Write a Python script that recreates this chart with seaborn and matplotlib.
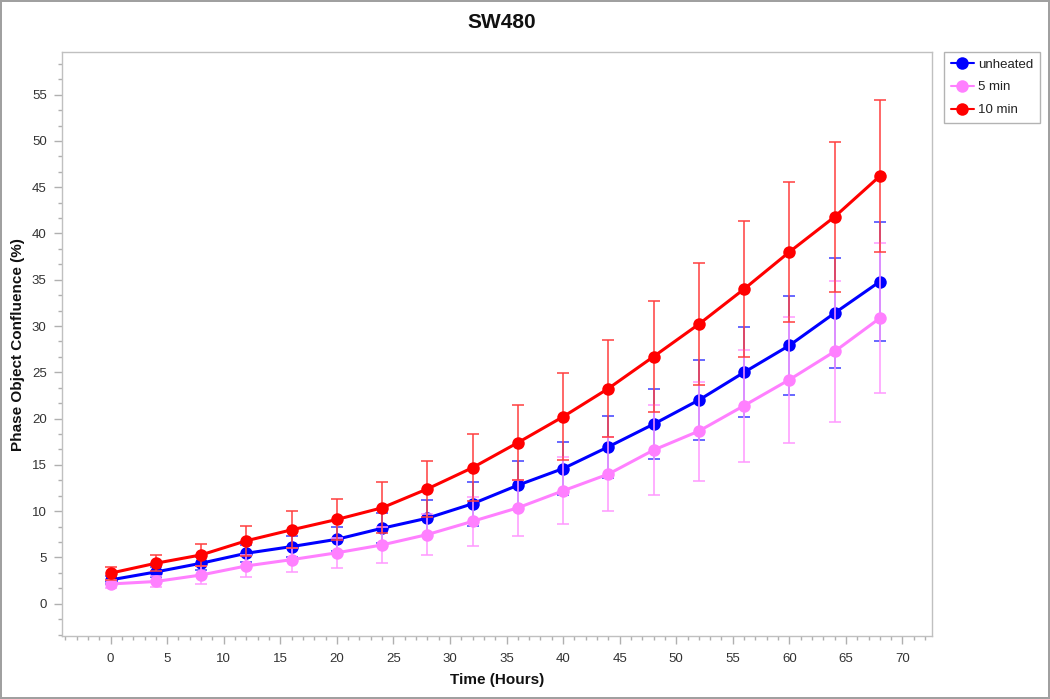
import numpy as np
import pandas as pd
import matplotlib
matplotlib.use("Agg")
import matplotlib.pyplot as plt
from matplotlib.ticker import MultipleLocator, AutoMinorLocator
from matplotlib.lines import Line2D
import seaborn as sns

hours = [0, 4, 8, 12, 16, 20, 24, 28, 32, 36, 40, 44, 48, 52, 56, 60, 64, 68]

unheated = [2.57, 3.43, 4.37, 5.45, 6.17, 6.96, 8.15, 9.24, 10.8, 12.8, 14.6, 16.95,
            19.4, 22.0, 25.0, 27.9, 31.4, 34.8]
unheated_err = [0.4, 0.5, 0.7, 0.9, 1.1, 1.3, 1.6, 1.95, 2.4, 2.65, 2.9, 3.35,
                3.8, 4.3, 4.85, 5.3, 5.9, 6.4]

min5 = [2.13, 2.4, 3.1, 4.08, 4.76, 5.5, 6.35, 7.47, 8.9, 10.36, 12.2, 14.0,
        16.6, 18.65, 21.4, 24.2, 27.25, 30.85]
min5_err = [0.4, 0.6, 1.0, 1.2, 1.3, 1.65, 1.9, 2.2, 2.65, 3.05, 3.6, 4.0,
            4.9, 5.35, 6.05, 6.8, 7.6, 8.1]

min10 = [3.3, 4.37, 5.27, 6.8, 7.98, 9.1, 10.36, 12.4, 14.7, 17.4, 20.2, 23.25,
         26.7, 30.2, 34.0, 38.0, 41.8, 46.2]
min10_err = [0.7, 0.85, 1.2, 1.6, 2.0, 2.2, 2.75, 3.05, 3.6, 4.05, 4.7, 5.25,
             6.0, 6.6, 7.35, 7.6, 8.1, 8.2]

series_names = ["unheated", "5 min", "10 min"]
series_colors = ["#0000FF", "#FF80FF", "#FF0000"]
err_colors = ["#4040FF", "#FF99FF", "#FF4040"]

sns.set_theme(style="white")
plt.rcParams["font.family"] = ["Liberation Sans", "DejaVu Sans"]

fig = plt.figure(figsize=(10.5, 6.99), dpi=100)
ax = fig.add_axes([0.059, 0.090, 0.8285, 0.8355])

vals = [unheated, min5, min10]
errs = [unheated_err, min5_err, min10_err]

for i, (name, v, e) in enumerate(zip(series_names, vals, errs)):
    z = 2 + i * 2
    ax.errorbar(hours, v, yerr=e, fmt="none", ecolor=err_colors[i], elinewidth=1.3,
                capsize=4.5, capthick=1.3, alpha=0.85, zorder=z)
    df = pd.DataFrame({"Time": hours, "Value": v})
    sns.lineplot(data=df, x="Time", y="Value", ax=ax, color=series_colors[i],
                 marker="o", markersize=9, markeredgewidth=0, linewidth=2.2,
                 zorder=z + 1, legend=False)

ax.set_xlim(-4.3, 72.6)
ax.set_ylim(-3.5, 59.6)
ax.xaxis.set_major_locator(MultipleLocator(5))
ax.xaxis.set_minor_locator(MultipleLocator(1))
ax.yaxis.set_major_locator(MultipleLocator(5))
ax.yaxis.set_minor_locator(AutoMinorLocator(3))
ax.set_xticks(range(0, 71, 5))
ax.set_yticks(range(0, 56, 5))

for sp in ax.spines.values():
    sp.set_color("#C0C0C0")
    sp.set_linewidth(1.0)

ax.tick_params(axis="both", which="major", direction="out", length=6, width=1,
               color="#B0B0B0", labelsize=9.5, labelcolor="#333333")
ax.tick_params(axis="both", which="minor", direction="out", length=3, width=1,
               color="#B0B0B0")
ax.tick_params(axis="y", which="major", pad=5)
ax.tick_params(axis="x", which="major", pad=6)
ax.tick_params(bottom=True, left=True, which="both")

ax.set_xlabel("Time (Hours)", fontsize=11, fontweight="bold", color="#111111", labelpad=6)
ax.set_ylabel("Phase Object Confluence (%)", fontsize=11, fontweight="bold",
              color="#111111", labelpad=5)
fig.suptitle("SW480", fontsize=15, fontweight="bold", y=0.982, x=0.478, color="#111111")

handles = [Line2D([0], [0], color=c, marker="o", markersize=9, linewidth=1.5,
                  markeredgewidth=0) for c in series_colors]
leg = fig.legend(handles, series_names, loc="upper left",
                 bbox_to_anchor=(0.899, 0.926), frameon=True, fontsize=9.5,
                 handlelength=1.8, handletextpad=0.3, borderpad=0.5,
                 labelspacing=0.8, fancybox=False, borderaxespad=0)
leg.get_frame().set_edgecolor("#A0A0A0")
leg.get_frame().set_linewidth(1.0)
for t in leg.get_texts():
    t.set_color("#222222")

fig.patch.set_edgecolor("#A0A0A0")
fig.patch.set_linewidth(1.5)

fig.savefig("out.png", dpi=100, edgecolor=fig.get_edgecolor())
